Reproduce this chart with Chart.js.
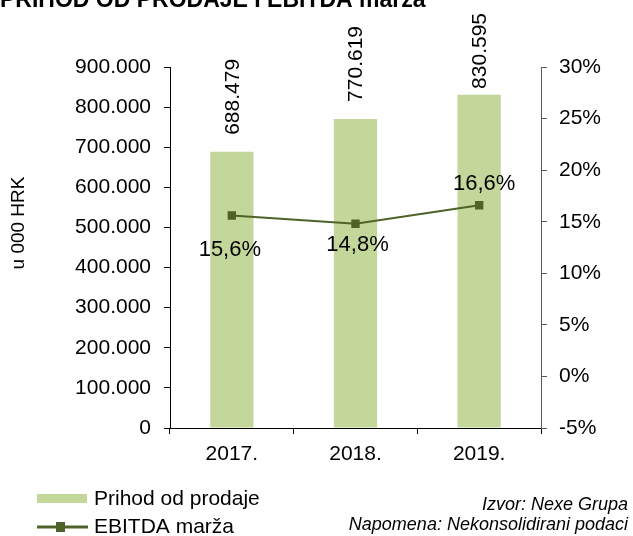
<!DOCTYPE html>
<html>
<head>
<meta charset="utf-8">
<script src="https://cdn.jsdelivr.net/npm/chart.js@4/dist/chart.umd.min.js"></script>
<style>
  html, body { margin: 0; padding: 0; background: #fff; }
  #wrap { width: 633px; height: 536px; position: relative; }
</style>
</head>
<body>
<div id="wrap"><canvas id="chart"></canvas></div>
<script>
// podaci s grafa
const godine = ["2017.", "2018.", "2019."];
const prihod = [688479, 770619, 830595];      // u 000 HRK
const ebitdaMarza = [0.156, 0.148, 0.166];
const naslov = "PRIHOD OD PRODAJE I EBITDA marža";
const izvor = ["Izvor: Nexe Grupa", "Napomena: Nekonsolidirani podaci"];

const FONT = "'Liberation Sans', Arial, sans-serif";
const ZELENA_SVIJETLA = "#c4d79b";
const ZELENA_TAMNA = "#4f6228";

const fmtTisuce = v => Math.round(v).toLocaleString("de-DE");
const fmtPosto = v => (Math.round(v * 1000) / 10).toFixed(1).replace(".", ",") + "%";

// natpisi, legenda, naslov i izvor
const ukrasi = {
  id: "ukrasi",
  afterDatasetsDraw(chart, args, opts) {
    const ctx = chart.ctx;
    const area = chart.chartArea;
    ctx.save();
    ctx.fillStyle = "#000";

    // vrijednosti iznad stupaca (okomito)
    ctx.font = "21px " + FONT;
    const barMeta = chart.getDatasetMeta(0);
    barMeta.data.forEach((bar, i) => {
      const txt = fmtTisuce(chart.data.datasets[0].data[i]);
      const w = ctx.measureText(txt).width;
      let yStart = bar.y - 17;
      if (yStart - w < 13) yStart = 13 + w;
      ctx.save();
      ctx.translate(bar.x, yStart);
      ctx.rotate(-Math.PI / 2);
      ctx.textAlign = "left";
      ctx.textBaseline = "middle";
      ctx.fillText(txt, 0, 1);
      ctx.restore();
    });

    // postoci uz tocke
    ctx.font = "22px " + FONT;
    ctx.textAlign = "center";
    ctx.textBaseline = "middle";
    const lineMeta = chart.getDatasetMeta(1);
    lineMeta.data.forEach((pt, i) => {
      const off = opts.pomaci[i];
      ctx.fillText(fmtPosto(chart.data.datasets[1].data[i]), pt.x + off[0], pt.y + off[1]);
    });

    // naslov (odrezan na vrhu)
    ctx.font = "bold 23px " + FONT;
    ctx.textAlign = "left";
    ctx.textBaseline = "alphabetic";
    ctx.fillText(naslov, 0, 7);

    // naslov osi
    ctx.save();
    ctx.font = "19px " + FONT;
    ctx.translate(19, 223);
    ctx.rotate(-Math.PI / 2);
    ctx.textAlign = "center";
    ctx.textBaseline = "middle";
    ctx.fillText("u 000 HRK", 0, 0);
    ctx.restore();

    // legenda
    const ds = chart.data.datasets;
    ctx.font = "21px " + FONT;
    ctx.textAlign = "left";
    ctx.textBaseline = "middle";
    ctx.fillStyle = ds[0].backgroundColor;
    ctx.fillRect(37, 494, 50, 9);
    ctx.fillStyle = "#000";
    ctx.fillText(ds[0].label, 94, 499);

    ctx.strokeStyle = ds[1].borderColor;
    ctx.lineWidth = 3;
    ctx.beginPath();
    ctx.moveTo(37, 527);
    ctx.lineTo(88, 527);
    ctx.stroke();
    ctx.fillStyle = ds[1].pointBackgroundColor;
    ctx.fillRect(56, 522, 9, 10);
    ctx.fillStyle = "#000";
    ctx.fillText(ds[1].label, 94, 527);

    // izvor
    ctx.font = "italic 18px " + FONT;
    ctx.textAlign = "right";
    ctx.fillText(izvor[0], 628, 505);
    ctx.fillText(izvor[1], 628, 525);

    ctx.restore();
  }
};

new Chart(document.getElementById("chart"), {
  data: {
    labels: godine,
    datasets: [
      {
        type: "bar",
        label: "Prihod od prodaje",
        data: prihod,
        yAxisID: "y",
        backgroundColor: ZELENA_SVIJETLA,
        categoryPercentage: 1,
        barPercentage: 0.35,
        order: 2
      },
      {
        type: "line",
        label: "EBITDA marža",
        data: ebitdaMarza,
        yAxisID: "y1",
        borderColor: ZELENA_TAMNA,
        borderWidth: 2,
        pointStyle: "rect",
        pointRadius: 4.5,
        pointBackgroundColor: ZELENA_TAMNA,
        pointBorderColor: ZELENA_TAMNA,
        order: 1
      }
    ]
  },
  options: {
    responsive: true,
    maintainAspectRatio: false,
    animation: false,
    devicePixelRatio: 1,
    layout: { padding: { top: 67, left: 0, right: 0, bottom: 0 } },
    plugins: {
      legend: { display: false },
      tooltip: { enabled: false },
      ukrasi: { pomaci: [[-2, 34], [2, 21], [5, -21]] }
    },
    scales: {
      x: {
        offset: true,
        grid: { drawOnChartArea: false, drawTicks: true, tickLength: 6, color: "#000", offset: true },
        border: { display: true, color: "#000", width: 1 },
        ticks: { color: "#000", font: { family: FONT, size: 21 }, padding: 8, maxRotation: 0 },
        afterFit: s => { s.height = 108; }
      },
      y: {
        position: "left",
        min: 0,
        max: 900000,
        grid: { drawOnChartArea: false, drawTicks: true, tickLength: 6, color: "#000" },
        border: { display: true, color: "#000", width: 1 },
        ticks: {
          stepSize: 100000,
          color: "#000",
          font: { family: FONT, size: 21 },
          padding: 13,
          callback: v => fmtTisuce(v)
        },
        afterFit: s => { s.width = 170; }
      },
      y1: {
        position: "right",
        min: -0.05,
        max: 0.30,
        grid: { drawOnChartArea: false, drawTicks: true, tickLength: 6, color: "#595959" },
        border: { display: true, color: "#595959", width: 1 },
        ticks: {
          stepSize: 0.05,
          color: "#000",
          font: { family: FONT, size: 21 },
          padding: 12,
          callback: v => Math.round(v * 100) + "%"
        },
        afterFit: s => { s.width = 92; }
      }
    }
  },
  plugins: [ukrasi]
});
</script>
</body>
</html>
